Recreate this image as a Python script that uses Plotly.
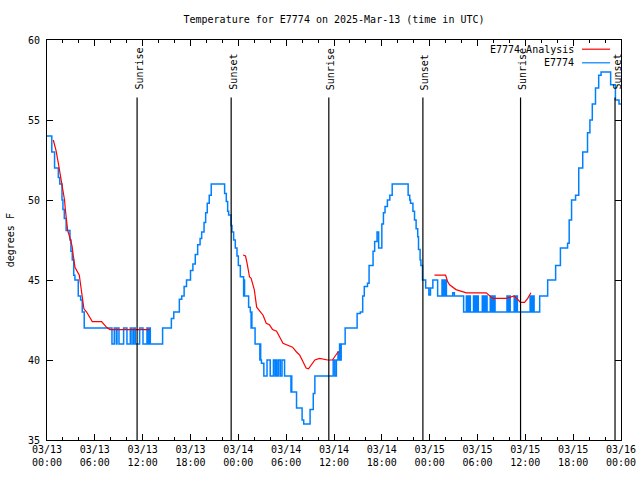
import plotly.graph_objects as go

# ---------------- data (hours since 2025-03-13 00:00 UTC) ----------------
obs_hours = [0.0, 0.6, 0.95, 1.42, 1.6, 1.88, 2.0, 2.17, 2.4, 2.88, 3.0, 3.17, 3.35, 3.5, 3.92, 4.22, 4.42, 4.67,
             8.15, 8.44, 8.69, 8.78, 9.03, 9.61, 10.03, 10.45, 10.66, 10.87, 11.07, 11.62, 12.04, 12.54, 12.7, 12.8, 12.96,
             14.5, 15.6, 15.9, 16.6, 16.9, 17.2, 17.5, 18.0, 18.3, 18.6, 18.9, 19.2, 19.4, 19.7, 19.9, 20.1, 20.35, 20.6,
             22.28, 22.49, 22.66, 22.78, 23.08, 23.2, 23.41, 23.62, 23.83, 24.0, 24.25, 24.66, 24.72, 24.78,
             25.29, 25.5, 25.6, 25.65, 25.7, 26.1, 26.7, 26.75, 26.8, 26.9, 27.2,
             27.6, 28.0, 28.4, 28.6, 28.7, 28.85, 29.05, 29.27, 29.48, 29.8,
             30.6, 30.65, 30.7, 31.3, 32.0, 32.2, 33.0, 33.4, 33.6, 35.9,
             36.1, 36.3, 36.5, 36.6, 36.7, 36.8, 36.9, 37.4, 38.9, 39.3, 39.6, 39.8, 40.2, 40.4, 40.9, 41.1, 41.4, 41.6,
             42.0, 42.2, 42.4, 42.7, 43.0, 43.3,
             45.3, 45.5, 45.6, 45.9, 46.1, 46.3, 46.5, 46.6, 46.8, 46.9, 47.1, 47.5, 47.9, 48.1, 48.4, 49.0,
             49.55, 49.65, 49.75, 49.85, 49.95, 50.1, 50.9, 51.1, 52.26,
             52.6, 52.75, 52.85, 53.0, 53.05, 53.1,
             53.5, 53.65, 53.75, 53.9, 54.0, 54.1,
             54.6, 54.75, 54.85, 55.0, 55.1, 55.2,
             55.6, 55.75, 55.85, 56.0, 56.1, 56.2,
             57.7, 57.85, 57.95, 58.1,
             58.6, 58.75, 58.85, 59.0,
             60.6, 60.75, 60.85, 61.0, 61.05, 61.1,
             61.8, 62.8, 63.8, 64.4, 65.3, 65.5, 65.8, 66.3, 66.7, 67.2, 67.8, 68.1, 68.4, 68.8, 69.2, 69.5,
             70.7, 71.3, 71.75, 72.0]
obs_temps = [54, 53, 52, 51.4, 51.0, 50.0, 49.4, 48.85, 48.1, 47.5, 46.8, 46.25, 45.3, 45.0, 44.0, 43.75, 43.0, 42.0,
             41, 42, 41, 42, 41, 42, 41, 42, 41, 42, 41, 42, 41, 42, 41, 42, 41,
             42, 42.6, 43, 43.8, 44, 44.6, 45, 45.6, 46, 46.6, 47.2, 47.6, 48, 48.6, 49.2, 49.8, 50.3, 51,
             50.4, 49.9, 49.3, 49.06, 48.4, 48.0, 47.5, 47.0, 46.5, 45.9, 45.2, 44, 45, 44,
             43.3, 43, 42, 43, 42, 41, 40, 41, 40, 39.8, 39,
             40, 39, 40, 39, 40, 39, 40, 39, 40, 39,
             38, 39, 38, 37, 36.25, 36, 36.9, 37.9, 39, 40,
             39, 40, 40.5, 40, 41, 40, 41, 42, 42.9, 43, 44, 44.6, 44.8, 45.9, 46.8, 47.4, 48, 47,
             48.5, 49.2, 49.6, 50.0, 50.3, 51,
             50.3, 50.0, 49.8, 49.3, 48.75, 48.2, 47.7, 46.9, 46.25, 45.9, 45, 44.5, 44.06, 44.5, 45, 44,
             45, 44, 45, 44, 45, 44, 44.2, 44, 43,
             44, 43, 44, 43, 44, 43,
             44, 43, 44, 43, 44, 43,
             44, 43, 44, 43, 44, 43,
             44, 43, 44, 43, 44, 43,
             44, 43, 44, 43,
             44, 43, 44, 43,
             44, 43, 44, 43, 44, 43,
             44, 45, 45.9, 47, 47.3, 48.75, 50, 50.3, 52, 53, 54.2, 55, 56, 57, 57.8, 58,
             57.2, 56.25, 56, 56]

ana_hours = [0.79, 1.13, 1.42, 1.71, 2.05, 2.2, 2.3, 2.45, 2.59, 2.96, 3.15, 3.3, 3.51, 4.05, 4.22, 4.42, 4.63,
             4.97, 5.38, 5.68, 6.85, 7.2, 7.47, 7.89, 12.9,
             None,
             24.6, 24.9, 25.1, 25.4, 25.6, 26.0, 26.3, 26.6, 27.1, 27.5, 27.9, 28.3, 28.8, 29.6, 30.8, 31.3, 31.7,
             32.1, 32.5, 32.8, 33.2, 33.6, 34.2, 35.2, 35.8, 36.1, 36.5, 36.7,
             None,
             48.6, 50.0, 50.25, 50.5, 51.3, 52.1, 52.6, 55.1, 55.5, 55.9, 57.6, 58.6, 59.4, 59.9, 60.3, 60.7]
ana_temps = [53.75, 53.1, 52.3, 51.5, 50.6, 50.0, 49.4, 48.75, 48.1, 47.5, 47.1, 46.5, 45.8, 45.3, 44.6, 43.75, 43.2,
             43.0, 42.6, 42.4, 42.4, 42.2, 42.04, 41.9, 41.9,
             None,
             46.56, 46.5, 46.04, 45.2, 45.1, 44.4, 43.3, 43.1, 42.8, 42.3, 42.2, 41.9, 41.8, 41.04, 40.8, 40.5, 40.3,
             39.9, 39.5, 39.45, 39.7, 40.0, 40.1, 40.0, 40.0, 40.2, 40.5, 40.5,
             None,
             45.3, 45.3, 44.9, 44.7, 44.4, 44.3, 44.2, 44.2, 44.0, 43.85, 43.85, 44.0, 43.6, 43.6, 43.85, 44.2]

sun_hours = [11.3, 23.1, 35.35, 47.15, 59.4, 71.25]
sun_labels = ["Sunrise", "Sunset", "Sunrise", "Sunset", "Sunrise", "Sunset"]

x_tickvals = [0, 6, 12, 18, 24, 30, 36, 42, 48, 54, 60, 66, 72]
x_ticktext = ["03/13<br>00:00", "03/13<br>06:00", "03/13<br>12:00", "03/13<br>18:00",
              "03/14<br>00:00", "03/14<br>06:00", "03/14<br>12:00", "03/14<br>18:00",
              "03/15<br>00:00", "03/15<br>06:00", "03/15<br>12:00", "03/15<br>18:00",
              "03/16<br>00:00"]
y_tickvals = [35, 40, 45, 50, 55, 60]

series_names = ["E7774 Analysis", "E7774"]
series_colors = ["#ff0000", "#0080ff"]

FONT = "DejaVu Sans Mono"

fig = go.Figure()
fig.add_trace(go.Scatter(x=obs_hours, y=obs_temps, mode="lines", line=dict(color=series_colors[1], width=1.5, shape="hv"),
                         name=series_names[1], showlegend=False))
fig.add_trace(go.Scatter(x=ana_hours, y=ana_temps, mode="lines", line=dict(color=series_colors[0], width=1.2),
                         name=series_names[0], showlegend=False, connectgaps=False))

for h, lab in zip(sun_hours, sun_labels):
    fig.add_shape(type="line", x0=h, x1=h, y0=35, y1=56.4, xref="x", yref="y",
                  line=dict(color="black", width=1.2))
    fig.add_annotation(x=h, y=56.75, xref="x", yref="y", text=lab, textangle=-90, showarrow=False,
                       xanchor="center", yanchor="bottom", xshift=1.5,
                       font=dict(family=FONT, size=10, color="black"))

# legend (gnuplot style: text then sample on the right)
leg_y = [0.977, 0.943]
for name, col, yy in zip(series_names, series_colors, leg_y):
    fig.add_annotation(x=0.921, y=yy, xref="paper", yref="paper", text=name, showarrow=False,
                       xanchor="right", yanchor="middle", font=dict(family=FONT, size=10, color="black"))
    fig.add_shape(type="line", x0=0.932, x1=0.981, y0=yy, y1=yy, xref="paper", yref="paper",
                  line=dict(color=col, width=1.2))

fig.add_annotation(x=-0.064, y=0.5, xref="paper", yref="paper", text="degrees F", textangle=-90,
                   showarrow=False, xanchor="center", yanchor="middle",
                   font=dict(family=FONT, size=10, color="black"))

fig.update_layout(
    width=640, height=480,
    margin=dict(l=47, r=19, t=40, b=40),
    paper_bgcolor="white", plot_bgcolor="white",
    font=dict(family=FONT, size=10, color="black"),
    title=dict(text="Temperature for E7774 on 2025-Mar-13 (time in UTC)", x=0.5, xref="paper",
               y=1 - 19 / 480, yref="container", xanchor="center", yanchor="middle",
               font=dict(family=FONT, size=10, color="black")),
    xaxis=dict(range=[0, 72], tickmode="array", tickvals=x_tickvals, ticktext=x_ticktext,
               ticks="inside", ticklen=6, tickcolor="black", tickwidth=1,
               showline=True, linecolor="black", linewidth=1, mirror="ticks",
               showgrid=False, zeroline=False, automargin=False,
               minor=dict(ticks="inside", ticklen=3, tickcolor="black", tickmode="linear", tick0=0, dtick=2,
                          showgrid=False),
               tickfont=dict(family=FONT, size=10)),
    yaxis=dict(range=[35, 60], tickmode="array", tickvals=y_tickvals,
               ticks="inside", ticklen=6, tickcolor="black", tickwidth=1,
               showline=True, linecolor="black", linewidth=1, mirror="ticks",
               showgrid=False, zeroline=False, ticklabelstandoff=4, automargin=False,
               tickfont=dict(family=FONT, size=10)),
)

fig.write_html("out.html", config={"displayModeBar": False},
               post_script="document.body.style.margin='0px';document.documentElement.style.overflow='hidden';")
